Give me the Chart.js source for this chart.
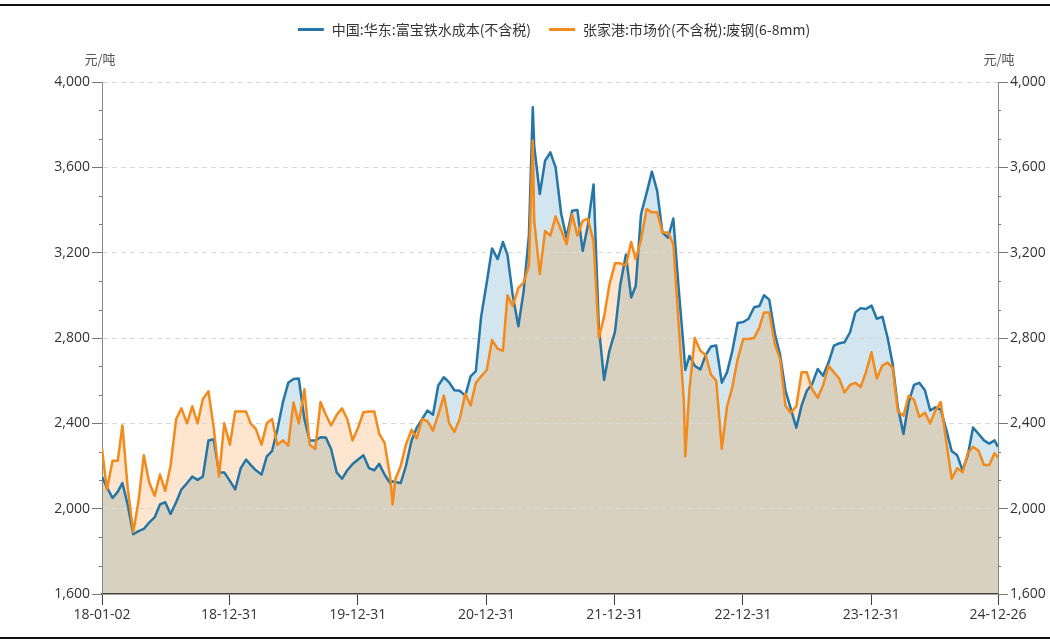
<!DOCTYPE html>
<html>
<head>
<meta charset="utf-8">
<script src="https://cdn.jsdelivr.net/npm/chart.js@4.4.1/dist/chart.umd.min.js"></script>
<style>
  html, body { margin: 0; padding: 0; background: #fff; }
  #c { display: block; }
</style>
</head>
<body>
<canvas id="c" width="1050" height="643"></canvas>
<script>
(function () {
    'use strict';

    // 日期（半月一个点，个别尖峰处加点）
    const dates = [
        '2018-01-02','2018-01-16','2018-02-01','2018-02-16','2018-03-01','2018-03-16','2018-04-01','2018-04-16','2018-05-01','2018-05-16','2018-06-01','2018-06-16',
        '2018-07-01','2018-07-16','2018-08-01','2018-08-16','2018-09-01','2018-09-16','2018-10-01','2018-10-16','2018-11-01','2018-11-16','2018-12-01','2018-12-16',
        '2019-01-01','2019-01-16','2019-02-01','2019-02-16','2019-03-01','2019-03-16','2019-04-01','2019-04-16','2019-05-01','2019-05-16','2019-06-01','2019-06-16',
        '2019-07-01','2019-07-16','2019-08-01','2019-08-16','2019-09-01','2019-09-16','2019-10-01','2019-10-16','2019-11-01','2019-11-16','2019-12-01','2019-12-16',
        '2020-01-01','2020-01-16','2020-02-01','2020-02-16','2020-03-01','2020-03-16','2020-04-01','2020-04-08','2020-04-16','2020-05-01','2020-05-16','2020-06-01','2020-06-16',
        '2020-07-01','2020-07-16','2020-08-01','2020-08-16','2020-09-01','2020-09-16','2020-10-01','2020-10-16','2020-11-01','2020-11-16','2020-12-01','2020-12-16',
        '2021-01-01','2021-01-16','2021-02-01','2021-02-16','2021-03-01','2021-03-16','2021-04-01','2021-04-16','2021-05-01','2021-05-12','2021-05-16','2021-06-01','2021-06-16',
        '2021-07-01','2021-07-16','2021-08-01','2021-08-16','2021-09-01','2021-09-16','2021-10-01','2021-10-16','2021-11-01','2021-11-16','2021-12-01','2021-12-16',
        '2022-01-01','2022-01-16','2022-02-01','2022-02-16','2022-03-01','2022-03-16','2022-04-01','2022-04-16','2022-05-01','2022-05-16','2022-06-01','2022-06-16',
        '2022-07-01','2022-07-16','2022-07-20','2022-08-01','2022-08-16','2022-09-01','2022-09-16','2022-10-01','2022-10-16','2022-11-01','2022-11-16','2022-12-01','2022-12-16',
        '2023-01-01','2023-01-16','2023-02-01','2023-02-16','2023-03-01','2023-03-16','2023-04-01','2023-04-16','2023-05-01','2023-05-16','2023-06-01','2023-06-16',
        '2023-07-01','2023-07-16','2023-08-01','2023-08-16','2023-09-01','2023-09-16','2023-10-01','2023-10-16','2023-11-01','2023-11-16','2023-12-01','2023-12-16',
        '2024-01-01','2024-01-16','2024-02-01','2024-02-16','2024-03-01','2024-03-16','2024-04-01','2024-04-16','2024-05-01','2024-05-16','2024-06-01','2024-06-16',
        '2024-07-01','2024-07-16','2024-08-01','2024-08-16','2024-09-01','2024-09-16','2024-10-01','2024-10-16','2024-11-01','2024-11-16','2024-12-01','2024-12-16','2024-12-26'
    ];

    // 中国:华东:富宝铁水成本(不含税)
    const ironCost = [
        2150,2100,2050,2080,2120,2020,1880,1895,1905,1935,1960,2020,2030,1975,2030,2090,2120,2150,2135,2150,2320,2325,2170,2170,
        2130,2090,2190,2230,2205,2180,2160,2245,2270,2370,2500,2590,2608,2610,2420,2320,2320,2335,2334,2280,2170,2140,2180,2209,
        2230,2250,2190,2180,2210,2160,2120,2128,2125,2120,2200,2320,2380,2420,2460,2440,2577,2616,2592,2555,2553,2530,2620,2645,2900,
        3060,3220,3170,3250,3190,3000,2855,3020,3280,3882,3700,3475,3631,3670,3600,3380,3271,3396,3400,3208,3330,3520,2850,2604,2740,
        2830,3050,3190,2990,3044,3380,3480,3580,3490,3295,3270,3360,3035,2740,2650,2716,2669,2653,2720,2760,2765,2590,2640,2740,2870,
        2875,2890,2944,2950,3000,2980,2820,2720,2555,2470,2380,2483,2553,2584,2655,2623,2686,2764,2775,2780,2827,2920,2940,2936,
        2952,2890,2900,2800,2680,2475,2350,2500,2580,2590,2555,2460,2475,2465,2370,2270,2250,2180,2250,2380,2350,2320,2305,2320,2290
    ];

    // 张家港:市场价(不含税):废钢(6-8mm)
    const scrapPrice = [
        2280,2090,2225,2225,2390,2100,1890,2037,2250,2125,2060,2160,2084,2200,2420,2470,2400,2480,2400,2514,2550,2380,2150,2400,
        2300,2455,2455,2455,2400,2373,2300,2400,2420,2300,2320,2295,2498,2400,2560,2300,2280,2500,2440,2390,2440,2470,2420,2320,
        2380,2452,2455,2455,2350,2310,2150,2020,2139,2200,2300,2370,2330,2420,2410,2366,2440,2530,2400,2360,2420,2540,2483,2590,2620,
        2650,2790,2750,2740,3000,2950,3035,3060,3140,3725,3350,3100,3302,3280,3370,3305,3239,3380,3280,3349,3360,3250,2800,2900,3050,
        3150,3150,3140,3250,3170,3260,3404,3389,3390,3295,3295,3240,2870,2500,2246,2560,2800,2740,2720,2629,2600,2280,2480,2570,2700,
        2795,2795,2800,2850,2920,2920,2770,2700,2483,2450,2480,2639,2639,2560,2520,2577,2670,2639,2610,2545,2580,2590,2570,2639,
        2733,2610,2672,2685,2660,2455,2436,2530,2510,2430,2450,2400,2460,2500,2311,2140,2190,2170,2260,2290,2270,2205,2205,2260,2240
    ];

    const seriesNames = ['中国:华东:富宝铁水成本(不含税)', '张家港:市场价(不含税):废钢(6-8mm)'];
    const xTickDates = ['2018-01-02','2018-12-31','2019-12-31','2020-12-31','2021-12-31','2022-12-31','2023-12-31','2024-12-26'];
    const xTickLabels = ['18-01-02','18-12-31','19-12-31','20-12-31','21-12-31','22-12-31','23-12-31','24-12-26'];
    const yTicks = [1600, 2000, 2400, 2800, 3200, 3600, 4000];
    const unitLabel = '元/吨';

    const BLUE = '#2576a6';
    const ORANGE = '#f38a1c';
    const FILL_BLUE = '#d3e5ee';
    const FILL_ORANGE = '#fde5cf';
    const FILL_TAN = '#d9d1bf';
    const CJK = '"Noto Sans CJK SC", "Noto Sans", sans-serif';
    const NUM = '"Open Sans", "Noto Sans", sans-serif';

    const t0 = Date.UTC(2018, 0, 2);
    function dayOf(s) {
        const p = s.split('-');
        return (Date.UTC(+p[0], +p[1] - 1, +p[2]) - t0) / 86400000;
    }
    const xs = dates.map(dayOf);
    const tickDays = xTickDates.map(dayOf);

    // 边框线、图例、单位、次刻度
    const decorPlugin = {
        id: 'decor',
        afterDraw(chart) {
            const ctx = chart.ctx;
            ctx.save();
            ctx.fillStyle = '#111';
            ctx.fillRect(0, 4, chart.width, 2);
            ctx.fillRect(0, 637, chart.width, 2);

            // 图例
            ctx.font = '14px ' + CJK;
            ctx.textBaseline = 'middle';
            const colors = [BLUE, ORANGE];
            const lineW = 26, gap = 8, itemGap = 18;
            const widths = seriesNames.map(n => ctx.measureText(n).width);
            const total = widths.reduce((a, w) => a + lineW + gap + w, 0) + itemGap;
            let x = 554 - total / 2;
            seriesNames.forEach((n, i) => {
                ctx.fillStyle = colors[i];
                ctx.fillRect(x, 28, lineW, 3);
                ctx.fillStyle = '#333';
                ctx.textAlign = 'left';
                ctx.fillText(n, x + lineW + gap, 29.5);
                x += lineW + gap + widths[i] + itemGap;
            });

            // 单位
            ctx.font = '13px ' + CJK;
            ctx.fillStyle = '#555';
            ctx.textAlign = 'center';
            ctx.fillText(unitLabel, 100, 59);
            ctx.fillText(unitLabel, 999, 59);

            // 次刻度
            ctx.strokeStyle = '#777';
            ctx.lineWidth = 1;
            ['y', 'y2'].forEach(id => {
                const s = chart.scales[id];
                const edge = id === 'y' ? s.right : s.left;
                const dir = id === 'y' ? -1 : 1;
                for (let k = 0; k < yTicks.length - 1; k++) {
                    for (let j = 1; j < 3; j++) {
                        const v = yTicks[k] + (yTicks[k + 1] - yTicks[k]) * j / 3;
                        const py = Math.round(s.getPixelForValue(v)) + 0.5;
                        ctx.beginPath();
                        ctx.moveTo(edge, py);
                        ctx.lineTo(edge + dir * 3, py);
                        ctx.stroke();
                    }
                }
            });
            ctx.restore();
        }
    };

    function yAxis(position, width, onArea) {
        return {
            type: 'linear',
            position: position,
            min: yTicks[0],
            max: yTicks[yTicks.length - 1],
            afterBuildTicks: s => { s.ticks = yTicks.map(v => ({ value: v })); },
            afterFit: s => { s.width = width; },
            ticks: {
                padding: 2,
                color: '#333',
                font: { family: NUM, size: 14 },
                callback: v => v.toLocaleString('en-US')
            },
            grid: {
                drawOnChartArea: onArea,
                drawTicks: true,
                tickLength: 10,
                tickColor: '#777',
                color: c => (c.tick && c.tick.value > yTicks[0]) ? '#d8d8d8' : 'rgba(0,0,0,0)'
            },
            border: { display: true, color: '#888', width: 1, dash: [5, 4] }
        };
    }

    // 数据集0=废钢（画在上层，并负责两线间填充），数据集1=铁水成本（负责底部填充）
    new Chart(document.getElementById('c'), {
        type: 'line',
        data: {
            datasets: [{
                label: seriesNames[1],
                data: xs.map((x, i) => ({ x: x, y: scrapPrice[i] })),
                borderColor: ORANGE,
                backgroundColor: FILL_ORANGE,
                borderWidth: 2.5,
                borderJoinStyle: 'round',
                pointRadius: 0,
                tension: 0,
                fill: { target: 1, above: FILL_ORANGE, below: FILL_BLUE },
                order: 0
            }, {
                label: seriesNames[0],
                data: xs.map((x, i) => ({ x: x, y: ironCost[i] })),
                borderColor: BLUE,
                backgroundColor: FILL_TAN,
                borderWidth: 2.5,
                borderJoinStyle: 'round',
                pointRadius: 0,
                tension: 0,
                fill: 'start',
                order: 1
            }]
        },
        options: {
            responsive: false,
            animation: false,
            layout: { padding: { top: 82, left: 0, right: 0, bottom: 0 } },
            plugins: {
                legend: { display: false },
                tooltip: { enabled: false },
                filler: { drawTime: 'beforeDraw' }
            },
            scales: {
                x: {
                    type: 'linear',
                    min: tickDays[0],
                    max: tickDays[tickDays.length - 1],
                    afterBuildTicks: s => { s.ticks = tickDays.map(v => ({ value: v })); },
                    afterFit: s => { s.height = 49; },
                    ticks: {
                        autoSkip: false,
                        maxRotation: 0,
                        padding: 2,
                        color: '#333',
                        font: { family: NUM, size: 14 },
                        callback: (v, i) => xTickLabels[i]
                    },
                    grid: { drawOnChartArea: false, drawTicks: true, tickLength: 11, tickColor: '#444' },
                    border: { display: true, color: '#444', width: 1.5 }
                },
                y: yAxis('left', 102, true),
                y2: yAxis('right', 52, false)
            }
        },
        plugins: [decorPlugin]
    });
})();
</script>
</body>
</html>
